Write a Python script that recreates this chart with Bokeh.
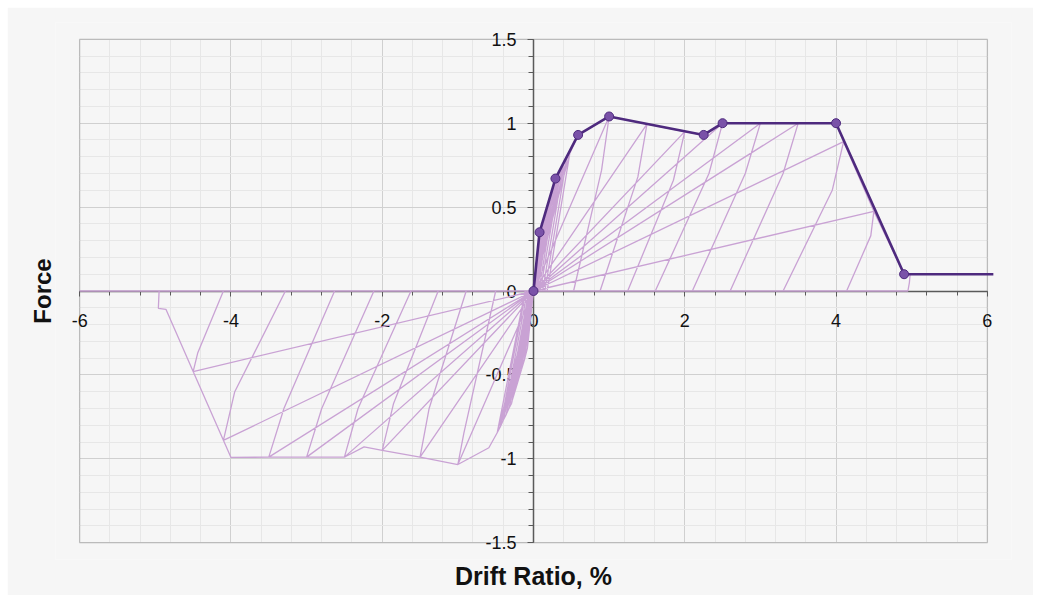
from bokeh.plotting import figure
from bokeh.models import (SingleIntervalTicker, CustomJSTickFormatter, Title, Range1d,
                          BoxAnnotation)
from bokeh.embed import file_html
from bokeh.resources import INLINE

# ---------------- data ----------------
# backbone (dark purple, with markers)
bb_x = [0.0, 0.08, 0.29, 0.59, 1.0, 2.25, 2.5, 4.0, 4.9]
bb_y = [0.0, 0.35, 0.67, 0.93, 1.04, 0.93, 1.0, 1.0, 0.1]
bb_tail_x = [6.08]
bb_tail_y = [0.1]

# negative envelope vertices (pink)
en_x = [0.0, -0.08, -0.29, -0.48, -0.59, -1.0, -2.24, -2.49, -4.0, -4.86]
en_y = [0.0, -0.35, -0.67, -0.845, -0.934, -1.034, -0.929, -0.988, -0.992, -0.109]

# small cycles: peaks and residual drifts
sp_x = [0.04, 0.08, 0.12, 0.16, 0.20, 0.24, 0.28, 0.32, 0.36, 0.40, 0.44, 0.48]
sp_y = [0.17, 0.34, 0.41, 0.47, 0.53, 0.59, 0.65, 0.69, 0.72, 0.76, 0.79, 0.82]
sp_r = [0.005, 0.01, 0.015, 0.02, 0.03, 0.04, 0.05, 0.07, 0.09, 0.12, 0.15, 0.18]
sn_x = [-0.04, -0.08, -0.12, -0.16, -0.20, -0.24, -0.28, -0.32, -0.36, -0.40, -0.44, -0.48]
sn_y = [-0.17, -0.34, -0.41, -0.47, -0.53, -0.59, -0.65, -0.695, -0.735, -0.77, -0.81, -0.845]
sn_r = [-0.005, -0.01, -0.015, -0.02, -0.025, -0.03, -0.04, -0.05, -0.06, -0.08, -0.10, -0.11]

# large cycles: peak, unloading knee, residual drift
lp_x = [1.0, 1.5, 2.0, 2.5, 3.0, 3.5, 4.1, 4.5, 4.98]
lp_y = [1.04, 0.995, 0.95, 1.0, 1.0, 1.0, 0.89, 0.475, 0.1]
lpk_x = [0.9, 1.38, 1.85, 2.32, 2.8, 3.3, 3.95, 4.46, 4.97]
lpk_y = [0.72, 0.68, 0.66, 0.7, 0.7, 0.7, 0.6, 0.33, 0.05]
lp_r = [0.53, 0.88, 1.245, 1.61, 2.1, 2.6, 3.3, 4.14, 4.95]

ln_x = [-1.0, -1.5, -2.0, -2.5, -3.0, -3.5, -4.1, -4.5, -4.96]
ln_y = [-1.034, -0.99, -0.95, -0.99, -0.99, -0.99, -0.89, -0.48, -0.103]
lnk_x = [-0.92, -1.38, -1.85, -2.32, -2.8, -3.3, -3.95, -4.44, -4.955]
lnk_y = [-0.845, -0.7, -0.67, -0.7, -0.7, -0.7, -0.6, -0.37, -0.05]
ln_r = [-0.5, -0.89, -1.26, -1.62, -2.11, -2.63, -3.28, -4.1, -4.95]

tail_x = [-6.0]
tail_y = [0.0]

x_lim = (-6, 6)
y_lim = (-1.5, 1.5)
x_tick_interval = 2
y_tick_interval = 0.5

# ---------------- build hysteresis path ----------------
pos_peaks = list(zip(sp_x, sp_y)) + list(zip(lp_x, lp_y))
pos_knees = [None] * len(sp_x) + list(zip(lpk_x, lpk_y))
pos_res = sp_r + lp_r
neg_peaks = list(zip(sn_x, sn_y)) + list(zip(ln_x, ln_y))
neg_knees = [None] * len(sn_x) + list(zip(lnk_x, lnk_y))
neg_res = sn_r + ln_r

pos_env = list(zip(bb_x, bb_y)) + list(zip(bb_tail_x, bb_tail_y))
neg_env = list(zip(en_x, en_y))


def loading(prev, cur, env):
    pts = [prev]
    a, b = abs(prev[0]), abs(cur[0])
    for vx, vy in env:
        if a < abs(vx) < b:
            pts.append((vx, vy))
    pts.append(cur)
    return pts


path = [(0.0, 0.0)]
prev_p = (0.0, 0.0)
prev_n = (0.0, 0.0)
for k in range(len(pos_peaks)):
    path += loading(prev_p, pos_peaks[k], pos_env)
    if pos_knees[k] is not None:
        path.append(pos_knees[k])
    path += [(pos_res[k], 0.0), (0.0, 0.0)]
    prev_p = pos_peaks[k]
    path += loading(prev_n, neg_peaks[k], neg_env)
    if neg_knees[k] is not None:
        path.append(neg_knees[k])
    path += [(neg_res[k], 0.0), (0.0, 0.0)]
    prev_n = neg_peaks[k]
path += list(zip(tail_x, tail_y))

hx = [pt[0] for pt in path]
hy = [pt[1] for pt in path]

# ---------------- figure ----------------
BG = "#f6f6f6"
# ranges padded a little so that the end tick labels of the centred axes are not clipped
p = figure(width=1026, height=588, margin=(7, 0, 0, 7),
           x_range=Range1d(-6.32, 6.32), y_range=Range1d(-1.6, 1.6),
           output_backend="svg", toolbar_location=None,
           background_fill_color=BG, border_fill_color=BG,
           min_border_left=48, min_border_right=22,
           min_border_top=15, min_border_bottom=36)
p.outline_line_color = None

fmt = CustomJSTickFormatter(code="return tick.toString();")

p.xaxis.ticker = SingleIntervalTicker(interval=x_tick_interval, num_minor_ticks=5)
p.yaxis.ticker = SingleIntervalTicker(interval=y_tick_interval, num_minor_ticks=5)
p.xaxis.bounds = x_lim
p.yaxis.bounds = y_lim
for ax in (p.xaxis[0], p.yaxis[0]):
    ax.fixed_location = 0
    ax.formatter = fmt
    ax.axis_line_color = "#5a5a5a"
    ax.axis_line_width = 1.5
    ax.major_tick_line_color = "#5a5a5a"
    ax.minor_tick_line_color = "#5a5a5a"
    ax.major_tick_in = 0
    ax.minor_tick_in = 0
    ax.major_label_text_font = "Liberation Sans"
    ax.major_label_text_font_size = "18px"
    ax.major_label_text_color = "#111111"
p.xaxis.major_tick_out = 5
p.xaxis.minor_tick_out = 4
p.yaxis.major_tick_out = 6
p.yaxis.minor_tick_out = 5
p.xaxis.major_label_standoff = 18
p.yaxis.major_label_standoff = 11

p.xgrid.ticker = p.xaxis.ticker
p.ygrid.ticker = p.yaxis.ticker
p.xgrid.bounds = x_lim
p.xgrid.cross_bounds = y_lim
p.ygrid.bounds = y_lim
p.ygrid.cross_bounds = x_lim
for g in (p.xgrid[0], p.ygrid[0]):
    g.grid_line_color = "#d0d0d0"
    g.grid_line_width = 1
    g.minor_grid_line_color = "#e7e7e7"
    g.minor_grid_line_width = 1

# plot-area border
p.add_layout(BoxAnnotation(left=x_lim[0], right=x_lim[1], bottom=y_lim[0], top=y_lim[1],
                           fill_alpha=0, line_color="#8a8a8a", line_width=1.5,
                           level="underlay"))

# hysteresis (pink) drawn above the axes
hr = p.line(hx, hy, line_color="#c9a2d4", line_width=1.3)
hr.level = "annotation"

# backbone
bl = p.line(bb_x + bb_tail_x, bb_y + bb_tail_y, line_color="#4e2a7e", line_width=2.6)
bl.level = "overlay"
bm = p.scatter(bb_x, bb_y, size=9, marker="circle", fill_color="#7a52a8",
               line_color="#4e2a7e", line_width=1)
bm.level = "overlay"

p.add_layout(Title(text="Drift Ratio, %", align="center", text_font="Liberation Sans",
                   text_font_size="25px", text_font_style="bold", text_color="#111111",
                   standoff=0), "below")
p.add_layout(Title(text="Force", align="center", text_font="Liberation Sans",
                   text_font_size="24px", text_font_style="bold", text_color="#111111",
                   standoff=0), "left")

open("out.html", "w").write(file_html(p, INLINE))
